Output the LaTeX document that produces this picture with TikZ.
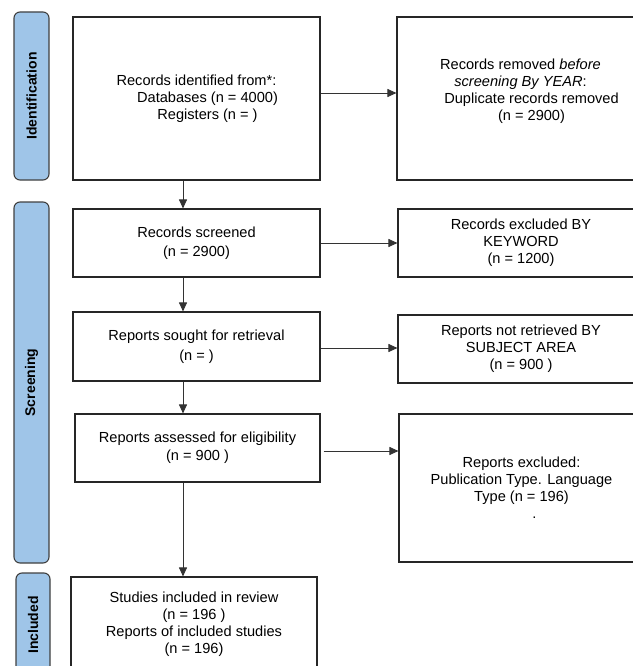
\documentclass[tikz,border=0pt]{standalone}
\usepackage{fontspec}
\setmainfont{Liberation Sans}
\usetikzlibrary{arrows.meta}
\definecolor{barblue}{RGB}{159,197,232}

\begin{document}
\begin{tikzpicture}[x=1pt, y=-1pt]

    % --- Parámetros globales ---
    \def\spinex{183}    % Abscisa de las flechas verticales
    \def\lead{22pt}     % Sangría de las líneas desplazadas

    \tikzset{
        stagebox/.style={draw=black!85, line width=1.1pt, fill=white, inner sep=0pt,
            align=center, font=\fontsize{14.6}{17}\selectfont},
        phasebar/.style={draw=black!75, line width=1.1pt, fill=barblue, rounded corners=6pt,
            rotate=90, inner sep=0pt, font=\bfseries\fontsize{14}{16}\selectfont},
        flow/.style={draw=black!80, line width=0.9pt, -{Triangle[length=9pt, width=8pt]}}
    }

    % Marco de la figura (las cajas de la derecha se salen por el borde)
    \useasboundingbox (0,0) rectangle (632,666);

    % =========================================================================
    % BARRAS DE FASE
    % =========================================================================
    \node[phasebar, minimum width=168pt, minimum height=35pt] (barident) at (31.5,96) {Identification};
    \node[phasebar, minimum width=361pt, minimum height=35pt] (barscreen) at (31.5,382.5) {Screening};
    \node[phasebar, minimum width=104pt, minimum height=34pt] (barincl) at (33,625) {Included};

    % =========================================================================
    % COLUMNA IZQUIERDA
    % =========================================================================
    \node[stagebox, minimum width=247pt, minimum height=163pt] (ident) at (196.5,98.5)
        {Records identified from*:\\\hspace*{\lead}Databases (n = 4000)\\\hspace*{\lead}Registers (n = )};
    \node[stagebox, minimum width=247pt, minimum height=68pt, font=\fontsize{14.6}{19.5}\selectfont] (screened) at (196.5,243)
        {Records screened\\(n = 2900)};
    \node[stagebox, minimum width=247pt, minimum height=69pt, font=\fontsize{14.6}{19.5}\selectfont] (sought) at (196.5,346.5)
        {Reports sought for retrieval\\(n = )};
    \node[stagebox, minimum width=245pt, minimum height=68pt, font=\fontsize{14.6}{18}\selectfont] (assessed) at (197.5,448)
        {Reports assessed for eligibility\\(n = 900 )};
    \node[stagebox, minimum width=246pt, minimum height=94pt] (included) at (194,624)
        {Studies included in review\\(n = 196 )\\Reports of included studies\\(n = 196)};

    % =========================================================================
    % COLUMNA DERECHA
    % =========================================================================
    \node[stagebox, minimum width=247pt, minimum height=163pt] (removed) at (520.5,98.5)
        {Records removed \textit{before}\\\textit{screening By YEAR}:\\\hspace*{\lead}Duplicate records removed\\\hspace*{\lead}(n = 2900)\\\mbox{}};
    \node[stagebox, minimum width=246pt, minimum height=68pt] (excluded) at (521,243)
        {Records excluded BY\\KEYWORD\\(n = 1200)};
    \node[stagebox, minimum width=246pt, minimum height=68pt] (notretr) at (521,349)
        {Reports not retrieved BY\\SUBJECT AREA\\(n = 900 )};
    \node[stagebox, minimum width=245pt, minimum height=148pt] (reasons) at (521.5,488)
        {Reports excluded:\\Publication Type. Language\\Type (n = 196)\\\hspace*{26pt}.};

    % =========================================================================
    % FLECHAS
    % =========================================================================
    \coordinate (spine) at (\spinex,0);

    % 1. Flujo vertical principal
    \draw[flow] (ident.south -| spine) -- (screened.north -| spine);
    \draw[flow] (screened.south -| spine) -- (sought.north -| spine);
    \draw[flow] (sought.south -| spine) -- (assessed.north -| spine);
    \draw[flow] (assessed.south -| spine) -- (included.north -| spine);

    % 2. Exclusiones hacia la derecha
    \draw[flow] ([yshift=5.5pt]ident.east) -- ([yshift=5.5pt]ident.east -| removed.west);
    \draw[flow] (screened.east) -- (screened.east -| excluded.west);
    \draw[flow] ([yshift=-1.5pt]sought.east) -- ([yshift=-1.5pt]sought.east -| notretr.west);
    \draw[flow] ([xshift=3pt, yshift=-3pt]assessed.east) -- ([yshift=-3pt]assessed.east -| reasons.west);

\end{tikzpicture}
\end{document}
